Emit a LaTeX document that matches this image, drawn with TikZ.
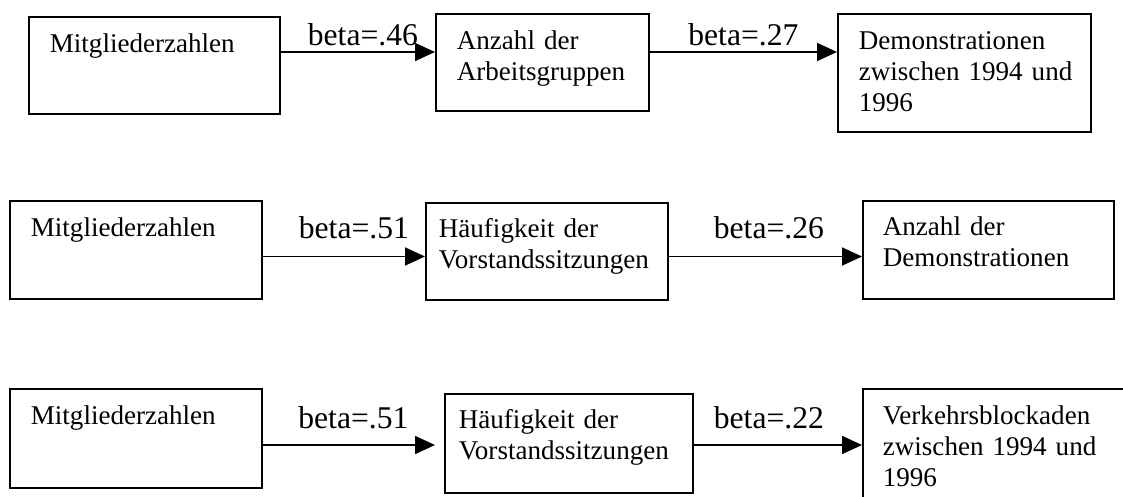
\documentclass[tikz,border=0pt]{standalone}
\usepackage{fontspec}
\setmainfont{Liberation Serif}
\usepackage{tikz}
\usetikzlibrary{arrows.meta}

\newcommand{\boxfont}{\fontsize{15.4}{17.4}\selectfont}
\newcommand{\betafont}{\fontsize{18}{20}\selectfont}

\tikzset{
box/.style={draw, line width=1pt, anchor=north west, align=left,
  inner ysep=0pt, inner xsep=0.42cm, text height=0.72cm, font=\boxfont},
betalbl/.style={font=\betafont, inner sep=0pt},
arr/.style={line width=1pt, -{Triangle[length=0.4cm,width=0.36cm]}}
}

\begin{document}
\begin{tikzpicture}
\useasboundingbox (0,0) rectangle (22.46,-9.94);

% The rows
\coordinate (r1) at (0,-1.04);
\coordinate (r2) at (0,-5.13);
\coordinate (r3) at (0,-8.90);

% First row
\node[box, text width=4.18cm, text depth=1.22cm] (a1) at (0.56,-0.32) {Mitgliederzahlen};
\node[box, text width=3.42cm, text depth=1.22cm] (a2) at (8.70,-0.26) {Anzahl der\\Arbeitsgruppen};
\node[box, text width=4.22cm, text depth=1.64cm] (a3) at (16.74,-0.26) {Demonstrationen\\\mbox{zwischen 1994 und}\\1996};

% Second row
\node[box, text width=4.20cm, text depth=1.24cm] (b1) at (0.18,-4.00) {Mitgliederzahlen};
\node[box, inner xsep=0.26cm, text width=4.32cm, text height=0.70cm, text depth=1.24cm] (b2) at (8.50,-4.04) {Häufigkeit der\\Vorstandssitzungen};
\node[box, inner xsep=0.40cm, text width=4.22cm, text height=0.70cm, text depth=1.26cm] (b3) at (17.24,-4.00) {Anzahl der\\Demonstrationen};

% Third row
\node[box, text width=4.20cm, text depth=1.26cm] (c1) at (0.18,-7.76) {Mitgliederzahlen};
\node[box, inner xsep=0.28cm, text width=4.40cm, text height=0.70cm, text depth=1.28cm] (c2) at (8.88,-7.86) {Häufigkeit der\\Vorstandssitzungen};
\node[box, inner xsep=0.40cm, text width=5.20cm, text depth=1.88cm] (c3) at (17.24,-7.76) {Verkehrsblockaden\\\mbox{zwischen 1994 und}\\1996};

% The paths
\draw[arr] (a1.east |- r1) -- (a2.west |- r1) node[betalbl, midway, above=0.1cm, xshift=0.1cm] {beta=.46};
\draw[arr] (a2.east |- r1) -- (a3.west |- r1) node[betalbl, midway, above=0.1cm] {beta=.27};
\draw[arr] (b1.east |- r2) -- (b2.west |- r2) node[betalbl, midway, above=0.34cm, xshift=0.2cm] {beta=.51};
\draw[arr] (b2.east |- r2) -- (b3.west |- r2) node[betalbl, midway, above=0.34cm, xshift=0.07cm] {beta=.26};
\draw[arr, shorten >=0.18cm] (c1.east |- r3) -- (c2.west |- r3) node[betalbl, midway, above=0.3cm] {beta=.51};
\draw[arr] (c2.east |- r3) -- (c3.west |- r3) node[betalbl, midway, above=0.3cm, xshift=-0.18cm] {beta=.22};
\end{tikzpicture}
\end{document}
